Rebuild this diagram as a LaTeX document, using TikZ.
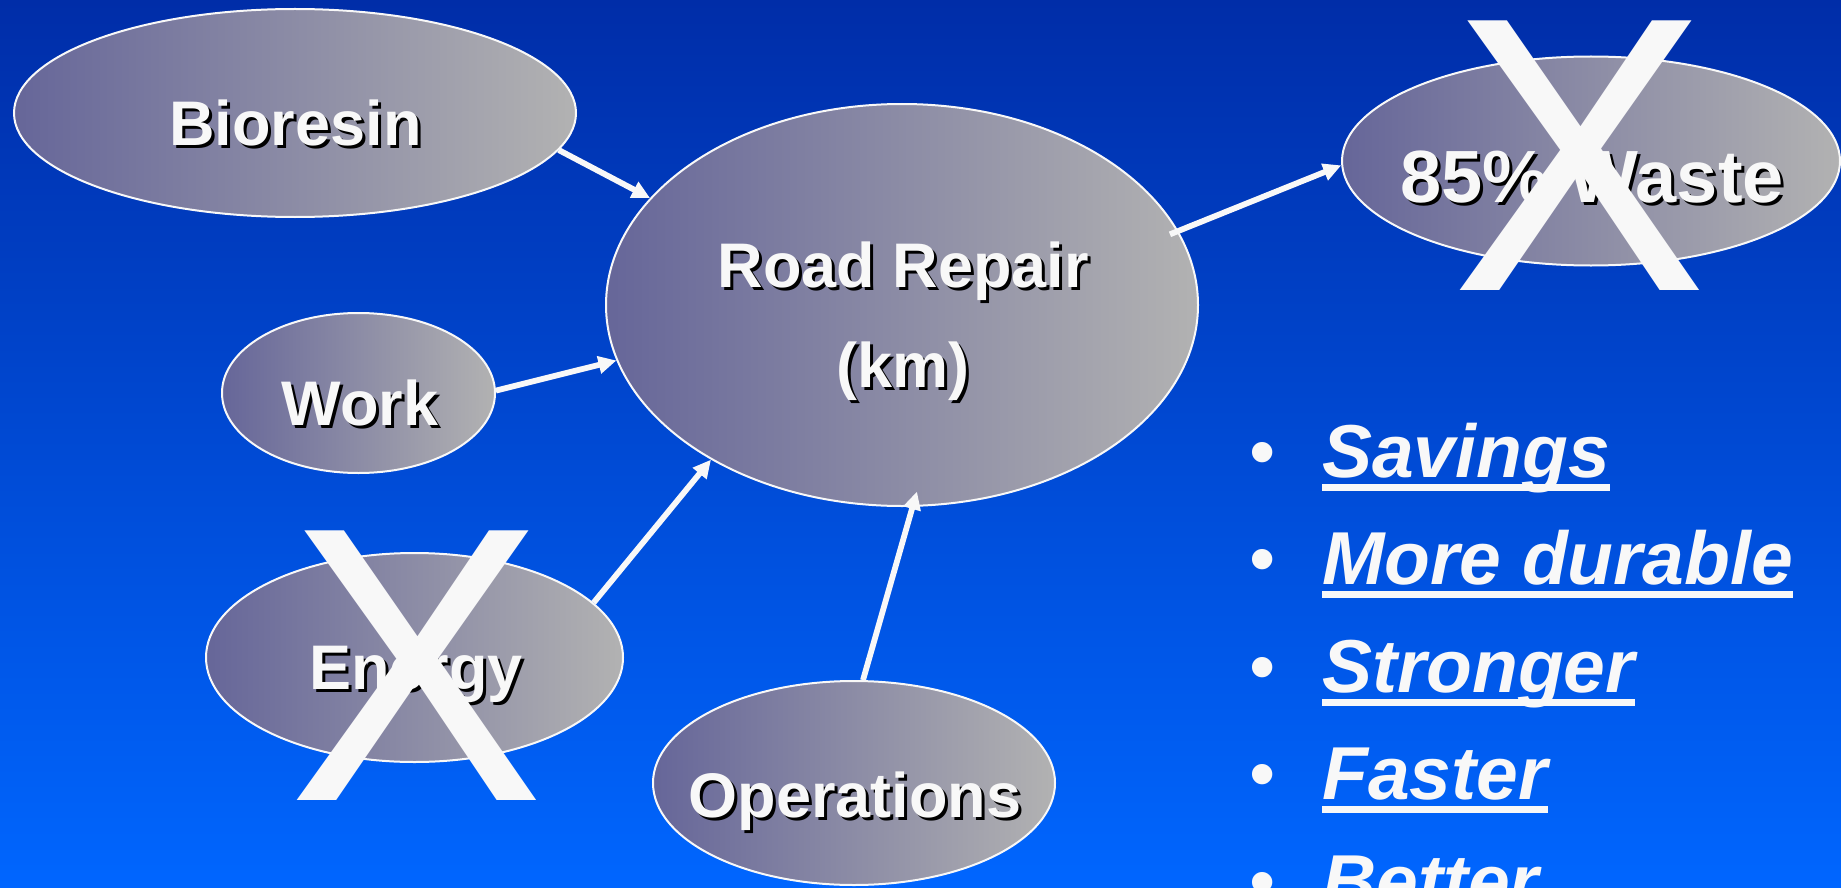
\documentclass[tikz,border=0pt]{standalone}
\usepackage{fontspec}
\setmainfont{Liberation Sans}
\usetikzlibrary{shapes.geometric,arrows.meta}
\definecolor{bgtop}{RGB}{0,45,168}
\definecolor{bgbot}{RGB}{0,102,255}
\definecolor{elL}{RGB}{102,102,153}
\definecolor{elR}{RGB}{178,178,178}
\definecolor{txtw}{RGB}{248,248,248}
\newcommand\ShTxt[4]{\node[#3,text=black,xshift=3pt,yshift=-3pt] at #2 {#4};\node[#3] (#1) at #2 {#4};}
\begin{document}
\begin{tikzpicture}[x=1pt,y=-1pt,
 oval/.style={ellipse, draw=txtw, line width=2pt, left color=elL, right color=elR, inner sep=0pt},
 lbl/.style={anchor=base, inner sep=0pt, text=txtw, font=\bfseries\fontsize{63}{75}\selectfont},
 biglbl/.style={lbl, font=\bfseries\fontsize{74}{88}\selectfont},
 conn/.style={draw=txtw, line width=5.8pt, -{Triangle[length=18pt,width=17pt]}},
 cross/.style={anchor=base, inner sep=0pt, text=txtw, xscale=0.98, font=\fontsize{392}{392}\selectfont},
 item/.style={anchor=base west, inner sep=0pt, text=txtw, font=\bfseries\itshape\fontsize{75}{90}\selectfont},
 dot/.style={anchor=base, inner sep=0pt, text=txtw, font=\fontsize{75}{90}\selectfont},
 uline/.style={fill=txtw}]
\useasboundingbox (0,0) rectangle (1841,888);
\clip (0,0) rectangle (1841,888);
\shade[top color=bgtop, bottom color=bgbot] (0,0) rectangle (1841,888);

% ellipses
\node[oval, minimum width=562pt, minimum height=208pt] (bio) at (295,113) {};
\node[oval, minimum width=592pt, minimum height=402pt] (road) at (902,305) {};
\node[oval, minimum width=273pt, minimum height=160pt] (work) at (358.5,393) {};
\node[oval, minimum width=417pt, minimum height=209pt] (energy) at (414.5,657.5) {};
\node[oval, minimum width=402pt, minimum height=204pt] (ops) at (854,783) {};
\node[oval, minimum width=498pt, minimum height=209pt] (waste) at (1591,161) {};

% connectors
\draw[conn] (bio.-8.6) -- (road.157.1);
\draw[conn] (work.1.7) -- (road.191.3);
\draw[conn] (energy.17.3) -- (road.219.7);
\draw[conn, shorten >=-16pt] (ops.85.6) -- (road.-87.5);
\draw[conn, shorten <=-9pt] (road.15.1) -- (waste.181.6);

% labels
\ShTxt{tbio}{(295.5,146)}{lbl}{Bioresin}
\ShTxt{troadA}{(903.5,287)}{lbl}{Road Repair}
\ShTxt{troadB}{(903,387)}{lbl}{(km)}
\ShTxt{twork}{(360,425)}{lbl}{Work}
\ShTxt{tenergy}{(416,689)}{lbl}{Energy}
\ShTxt{tops}{(855,817)}{lbl}{Operations}
\ShTxt{twaste}{(1592,202)}{biglbl}{85\% Waste}

% crosses
\node[cross] (xwaste) at (1580,290) {X};
\node[cross] (xenergy) at (417,800) {X};

% bullet list
\node[dot] (d1) at (1263,477) {\textbullet};
\node[dot] (d2) at (1263,584) {\textbullet};
\node[dot] (d3) at (1263,692) {\textbullet};
\node[dot] (d4) at (1263,799) {\textbullet};
\node[dot] (d5) at (1263,907) {\textbullet};
\node[item] (s1) at (1322,477) {Savings};
\node[item] (s2) at (1322,584) {More durable};
\node[item] (s3) at (1322,692) {Stronger};
\node[item] (s4) at (1322,799) {Faster};
\node[item] (s5) at (1322,907) {Better};
\foreach \s in {s1,s2,s3,s4,s5}
  \fill[uline] ([yshift=-6.5pt]\s.base west) rectangle ([yshift=-14pt]\s.base east);
\end{tikzpicture}
\end{document}
